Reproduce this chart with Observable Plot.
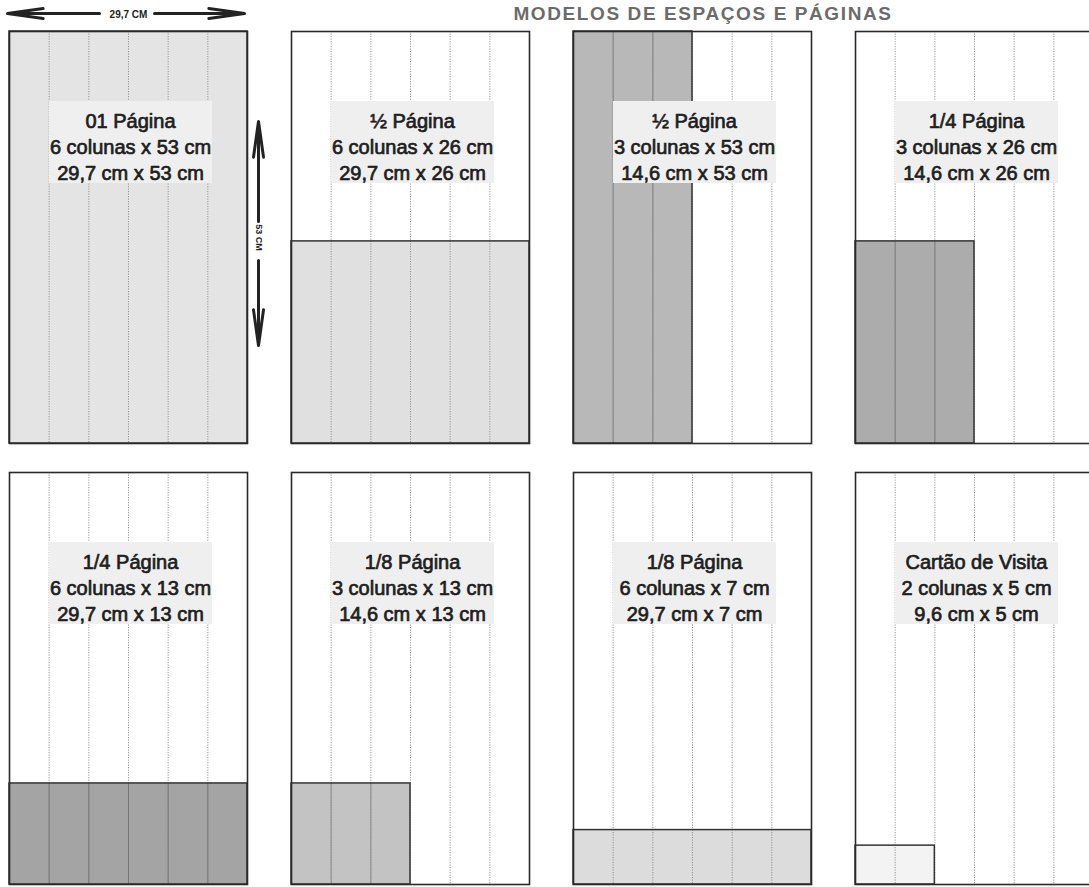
<!DOCTYPE html>
<html><head><meta charset="utf-8">
<script src="https://cdn.jsdelivr.net/npm/d3@7"></script>
<script src="https://cdn.jsdelivr.net/npm/@observablehq/plot@0.6"></script>
<style>
html,body{margin:0;padding:0;background:#fff;overflow:hidden;width:1089px;height:887px;}
#wrap{position:relative;width:1089px;height:887px;overflow:hidden;}
#title{position:absolute;top:3px;left:403px;width:600px;text-align:center;font:bold 19px "Liberation Sans",Arial,sans-serif;line-height:22px;letter-spacing:1.6px;color:#6b6b6b;white-space:nowrap;}
#chart{position:absolute;top:0;left:0;}
#chart svg{max-width:none !important;}
</style></head><body>
<div id="wrap"><div id="chart"></div><div id="title">MODELOS DE ESPAÇOS E PÁGINAS</div></div>
<script>
// ---- data ----
const titles = ["01 Página", "½ Página", "½ Página", "1/4 Página", "1/4 Página", "1/8 Página", "1/8 Página", "Cartão de Visita"];
const columns = [6, 6, 3, 3, 6, 3, 6, 2];
const heightsCm = [53, 26, 53, 26, 13, 13, 7, 5];
const widthsCm = ["29,7", "29,7", "14,6", "14,6", "29,7", "14,6", "29,7", "9,6"];
const shades = ["#e4e4e4", "#e0e0e0", "#b8b8b8", "#acacac", "#a4a4a4", "#c3c3c3", "#dcdcdc", "#f3f3f3"];
const pageColumns = 6;
const pageHeightCm = 53;
const pageWidthLabel = "29,7 CM";
const pageHeightLabel = "53 CM";
const rowNames = ["top", "bottom"];

const panels = titles.map((t, i) => ({
  col: i % 4, row: rowNames[Math.floor(i / 4)], title: t,
  cols: columns[i], h: heightsCm[i], w: widthsCm[i], fill: shades[i]
}));
const dividers = d3.range(1, pageColumns);
const divs = panels.flatMap(p => dividers.map(x => ({...p, x})));
const inner = divs.filter(d => d.x < d.cols && d3.hsl(d.fill).l < 0.84);
const first = [panels[0]];
const font = "'Liberation Sans', Arial, Helvetica, sans-serif";
const arrowStyle = {stroke: "#222", strokeWidth: 3, headLength: 18, headAngle: 16};

const plot = Plot.plot({
  width: 1095, height: 887,
  marginLeft: 7, marginRight: 0, marginTop: 30, marginBottom: 2,
  x: {domain: [0, pageColumns], axis: null},
  y: {domain: [0, pageHeightCm], axis: null},
  fx: {domain: [0, 1, 2, 3], paddingInner: 0.155, paddingOuter: 0, axis: null},
  fy: {domain: rowNames, paddingInner: 0.0656, paddingOuter: 0, axis: null},
  color: {type: "identity"},
  style: {fontFamily: font, background: "transparent", overflow: "visible"},
  marks: [
    Plot.rect(panels, {fx: "col", fy: "row", x1: 0, x2: "cols", y1: 0, y2: "h", fill: "fill"}),
    Plot.ruleX(divs, {fx: "col", fy: "row", x: "x", stroke: "#8a8a8a", strokeWidth: 0.9, strokeDasharray: "1.2,1.3"}),
    Plot.ruleX(inner, {fx: "col", fy: "row", x: "x", y1: 0, y2: "h", stroke: d => d3.color(d.fill).darker(0.9).formatHex(), strokeWidth: 1}),
    Plot.rect(panels, {fx: "col", fy: "row", x1: 0, x2: "cols", y1: 0, y2: "h", fill: "none", stroke: "#333", strokeWidth: 1.5}),
    Plot.rect(panels, {fx: "col", fy: "row", x1: 0, x2: pageColumns, y1: 0, y2: pageHeightCm,
      insetLeft: 40, insetRight: 35, insetTop: 70, insetBottom: 260, fill: "#efefef"}),
    Plot.text(panels, {fx: "col", fy: "row", x: pageColumns / 2, y: pageHeightCm,
      text: d => `${d.title}\n${d.cols} colunas x ${d.h} cm\n${d.w} cm x ${d.h} cm`,
      lineAnchor: "top", dy: 78, dx: 2, lineHeight: 1.3, fontSize: 20,
      fill: "#1e1e1e", stroke: "#1e1e1e", strokeWidth: 0.7}),
    Plot.frame({stroke: "#2a2a2a", strokeWidth: 1.6}),
    // dimension arrows (page width / height)
    Plot.arrow(first, {fx: "col", fy: "row", x1: pageColumns / 2, x2: 0, y1: pageHeightCm, y2: pageHeightCm,
      dy: -18, insetStart: 29, insetEnd: -2, ...arrowStyle}),
    Plot.arrow(first, {fx: "col", fy: "row", x1: pageColumns / 2, x2: pageColumns, y1: pageHeightCm, y2: pageHeightCm,
      dy: -18, insetStart: 26, insetEnd: 3, ...arrowStyle}),
    Plot.text(first, {fx: "col", fy: "row", x: pageColumns / 2, y: pageHeightCm, dy: -17,
      text: () => pageWidthLabel, fontSize: 10, fontWeight: "bold", fill: "#222"}),
    Plot.arrow(first, {fx: "col", fy: "row", x1: pageColumns, x2: pageColumns, y1: pageHeightCm / 2, y2: pageHeightCm,
      dx: 11, insetStart: 16, insetEnd: 90, ...arrowStyle}),
    Plot.arrow(first, {fx: "col", fy: "row", x1: pageColumns, x2: pageColumns, y1: pageHeightCm / 2, y2: 0,
      dx: 11, insetStart: 23, insetEnd: 98, ...arrowStyle}),
    Plot.text(first, {fx: "col", fy: "row", x: pageColumns, y: pageHeightCm / 2, dx: 11,
      rotate: 90, text: () => pageHeightLabel, fontSize: 9, fontWeight: "bold", fill: "#222"})
  ]
});
document.getElementById("chart").appendChild(plot);
</script>
</body></html>
